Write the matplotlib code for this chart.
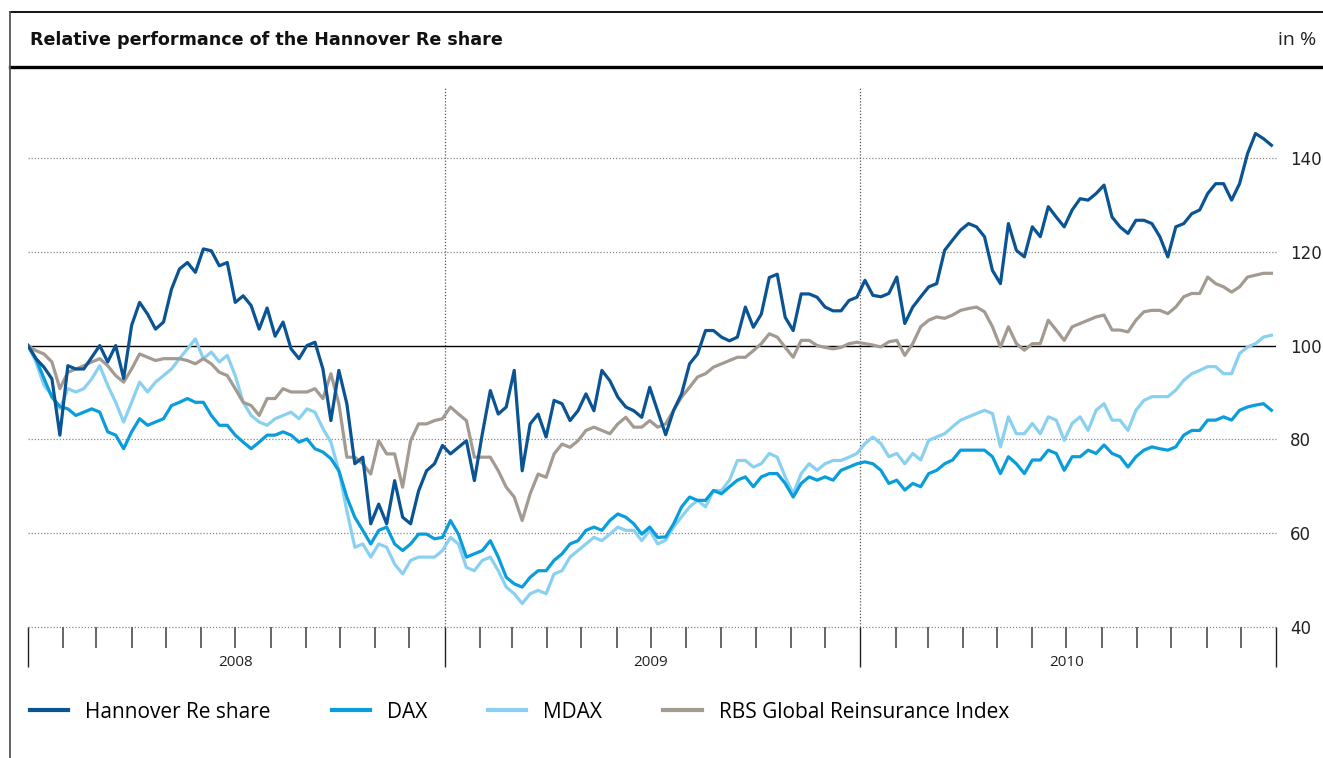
import numpy as np
import pandas as pd
import matplotlib
matplotlib.use('Agg')
import matplotlib.pyplot as plt
import matplotlib.dates as mdates
from matplotlib.lines import Line2D
from matplotlib.transforms import blended_transform_factory

# weekly closing points, indexed to 100 at 1 Jan 2008
weeks = pd.date_range('2008-01-01', periods=157, freq='7D')

hannover = [100, 97.2, 95.4, 92.9, 80.9, 95.7, 95, 95, 97.5, 100, 96.5, 100, 93, 104.3, 109.2, 106.7,
            103.5, 105, 112, 116.3, 117.7, 115.6, 120.6, 120.2, 117, 117.7, 109.2, 110.6, 108.5, 103.5,
            108, 102, 105, 99.3, 97.2, 100, 100.7, 95, 84, 94.7, 87.6, 74.8, 76.2, 62, 66.2, 62, 71.2,
            63.4, 62, 69, 73.3, 74.8, 78.7, 76.9, 78.3, 79.7, 71.2, 81.2, 90.4, 85.4, 86.9, 94.7, 73.3,
            83.3, 85.4, 80.5, 88.3, 87.6, 84, 86.1, 89.7, 86.1, 94.7, 92.5, 89, 86.9, 86.1, 84.7, 91.1,
            86, 81, 86.2, 89.7, 96.1, 98.2, 103.2, 103.2, 101.8, 101, 101.8, 108.2, 103.9, 106.7, 114.5,
            115.2, 106, 103.2, 111, 111, 110.3, 108.2, 107.4, 107.4, 109.6, 110.3, 113.9, 110.7, 110.4,
            111.1, 114.6, 104.7, 108.2, 110.4, 112.5, 113.2, 120.3, 122.5, 124.6, 126, 125.3, 123.2, 116,
            113.2, 126, 120.3, 118.9, 125.3, 123.2, 129.6, 127.4, 125.3, 128.9, 131.3, 131, 132.4, 134.2,
            127.4, 125.3, 123.9, 126.7, 126.7, 126, 123.2, 118.9, 125.3, 126, 128.1, 128.9, 132.4, 134.5,
            134.5, 131, 134.5, 140.9, 145.2, 144.1, 142.7]

dax = [100, 97.2, 93, 89, 87, 86.5, 85.1, 85.8, 86.5, 85.8, 81.6, 80.9, 78, 81.6, 84.4, 83, 83.7, 84.4,
       87.2, 87.9, 88.7, 87.9, 87.9, 85.1, 83, 83, 80.9, 79.4, 78, 79.4, 80.9, 80.9, 81.6, 80.9, 79.4,
       80.1, 78, 77.3, 75.9, 73.3, 67.7, 63.4, 60.6, 57.7, 60.6, 61.3, 57.7, 56.3, 57.7, 59.8, 59.8,
       58.8, 59.1, 62.7, 59.8, 54.9, 55.6, 56.3, 58.4, 54.9, 50.6, 49.2, 48.5, 50.6, 52, 52, 54.2,
       55.6, 57.7, 58.4, 60.6, 61.3, 60.6, 62.7, 64.1, 63.4, 62, 59.8, 61.3, 59.1, 59.2, 62, 65.6,
       67.7, 67, 67, 69.1, 68.4, 69.9, 71.3, 72, 69.9, 72, 72.7, 72.7, 70.6, 67.7, 70.6, 72, 71.3, 72,
       71.3, 73.4, 74.1, 74.8, 75.2, 74.8, 73.4, 70.6, 71.3, 69.2, 70.6, 69.9, 72.7, 73.4, 74.8, 75.6,
       77.7, 77.7, 77.7, 77.7, 76.3, 72.7, 76.3, 74.8, 72.7, 75.6, 75.6, 77.7, 77, 73.4, 76.3, 76.3,
       77.7, 77, 78.8, 77, 76.3, 74.1, 76.3, 77.7, 78.4, 78, 77.7, 78.4, 80.9, 81.9, 81.9, 84.1, 84.1,
       84.8, 84.1, 86.2, 86.9, 87.3, 87.6, 86.2]

mdax = [100, 96.5, 91.5, 89.4, 86.5, 90.8, 90.1, 90.8, 92.9, 95.7, 91.5, 87.9, 83.7, 87.9, 92.2, 90.1,
        92.2, 93.6, 95, 97.2, 99.3, 101.4, 97.2, 98.6, 96.5, 97.9, 93.6, 87.9, 85.1, 83.7, 83, 84.4,
        85.1, 85.8, 84.4, 86.5, 85.8, 82.3, 79.4, 73.3, 64.8, 57, 57.7, 54.9, 57.7, 57, 53.4, 51.3,
        54.2, 54.9, 54.9, 54.9, 56.3, 59.1, 57.7, 52.7, 52, 54.2, 54.9, 52, 48.5, 47.1, 45, 47.1, 47.8,
        47.1, 51.3, 52, 54.9, 56.3, 57.7, 59.1, 58.4, 59.8, 61.3, 60.6, 60.6, 58.4, 60.6, 57.7, 58.5,
        61.3, 63.5, 65.6, 67, 65.6, 69.1, 69.1, 71.3, 75.5, 75.5, 74.1, 74.8, 77, 76.2, 72, 68.4, 72.7,
        74.8, 73.4, 74.8, 75.5, 75.5, 76.2, 77, 79.1, 80.5, 79.1, 76.3, 77, 74.8, 77, 75.6, 79.8, 80.5,
        81.2, 82.7, 84.1, 84.8, 85.5, 86.2, 85.5, 78.4, 84.8, 81.2, 81.2, 83.4, 81.2, 84.8, 84.1, 79.8,
        83.4, 84.8, 81.9, 86.2, 87.6, 84.1, 84.1, 81.9, 86.2, 88.3, 89.1, 89.1, 89.1, 90.5, 92.6, 94,
        94.7, 95.5, 95.5, 94, 94, 98.3, 99.7, 100.4, 101.8, 102.2]

rbs = [100, 98.9, 98.2, 96.5, 90.8, 94.3, 95, 95.7, 96.5, 97.2, 95.7, 93.6, 92.2, 95, 98.2, 97.5, 96.8,
       97.2, 97.2, 97.2, 96.8, 96.1, 97.2, 96.1, 94.3, 93.6, 90.8, 87.9, 87.2, 85.1, 88.7, 88.7, 90.8,
       90.1, 90.1, 90.1, 90.8, 88.7, 94, 87.6, 76.2, 76.2, 74.8, 72.6, 79.7, 76.9, 76.9, 69.8, 79.7,
       83.3, 83.3, 84, 84.4, 86.9, 85.4, 84, 76.2, 76.2, 76.2, 73.3, 69.8, 67.7, 62.7, 68.4, 72.6,
       71.9, 76.9, 79, 78.3, 79.7, 81.9, 82.6, 81.9, 81.2, 83.3, 84.7, 82.6, 82.6, 84, 82.6, 83.3,
       86.2, 89, 91.1, 93.3, 94, 95.4, 96.1, 96.8, 97.5, 97.5, 98.9, 100.4, 102.5, 101.8, 99.6, 97.5,
       101.1, 101.1, 100, 99.6, 99.3, 99.6, 100.4, 100.7, 100.4, 100.1, 99.7, 100.8, 101.1, 97.9,
       100.4, 104, 105.4, 106.1, 105.8, 106.5, 107.5, 107.9, 108.2, 107.2, 104, 99.7, 104, 100.4, 99,
       100.4, 100.4, 105.4, 103.3, 101.1, 104, 104.7, 105.4, 106.1, 106.5, 103.3, 103.3, 102.9, 105.4,
       107.2, 107.5, 107.5, 106.8, 108.2, 110.4, 111.1, 111.1, 114.6, 113.2, 112.5, 111.4, 112.5,
       114.6, 115, 115.4, 115.4]

series_names = ['Hannover Re share', 'DAX', 'MDAX', 'RBS Global Reinsurance Index']
series_colors = ['#0a5494', '#0a9ddb', '#8ad0f0', '#a39a91']
y_ticks = [40, 60, 80, 100, 120, 140]
years = [2008, 2009, 2010]

plt.rcParams['font.family'] = ['Open Sans', 'DejaVu Sans']

fig = plt.figure(figsize=(13.23, 7.58), dpi=100)
ax = fig.add_axes([28/1323, 131/758, 1248/1323, 539/758])

# draw in order so the Hannover line sits on top
lw = 2.3
l_mdax, = ax.plot(weeks, mdax, color=series_colors[2], lw=lw, solid_joinstyle='round', zorder=3)
l_dax, = ax.plot(weeks, dax, color=series_colors[1], lw=lw, solid_joinstyle='round', zorder=4)
l_rbs, = ax.plot(weeks, rbs, color=series_colors[3], lw=lw, solid_joinstyle='round', zorder=5)
l_han, = ax.plot(weeks, hannover, color=series_colors[0], lw=lw, solid_joinstyle='round', zorder=6)

x0 = pd.Timestamp('2008-01-01')
x1 = pd.Timestamp('2011-01-01')
ax.set_xlim(x0, x1)
ax.set_ylim(40, 154.9)

for sp in ax.spines.values():
    sp.set_visible(False)

# horizontal grid, 100 line solid
for v in y_ticks:
    if v == 100:
        ax.axhline(v, color='black', lw=1.0, zorder=2)
    else:
        ax.axhline(v, color='#888888', lw=0.9, ls=(0, (1, 1.5)), zorder=1, clip_on=False)

# year separators
for yr in years[1:]:
    ax.axvline(pd.Timestamp(f'{yr}-01-01'), color='#555555', lw=0.9, ls=(0, (1, 1.5)), zorder=1)

ax.yaxis.tick_right()
ax.set_yticks(y_ticks)
ax.set_yticklabels([str(v) for v in y_ticks], family='DejaVu Sans')
ax.tick_params(axis='y', length=0, pad=10, labelsize=12, labelcolor='#222222')
for lab in ax.get_yticklabels():
    lab.set_horizontalalignment('left')

# month ticks (minor) and year ticks (major)
ax.xaxis.set_major_locator(mdates.YearLocator())
ax.xaxis.set_minor_locator(mdates.MonthLocator())
ax.xaxis.set_major_formatter(plt.NullFormatter())
ax.tick_params(axis='x', which='major', length=29, width=1.0, color='#222222', direction='out')
ax.tick_params(axis='x', which='minor', length=15, width=1.4, color='#666666', direction='out')

trans = blended_transform_factory(ax.transData, ax.transAxes)
for yr in years:
    ax.text(pd.Timestamp(f'{yr}-07-01'), -0.065, str(yr), transform=trans, ha='center', va='center',
            fontsize=11, color='#222222')

# frame / header
fig.add_artist(Line2D([10/1323, 1], [1 - 12/758, 1 - 12/758], color='black', lw=1.3))
fig.add_artist(Line2D([10/1323, 1], [1 - 67/758, 1 - 67/758], color='black', lw=2.4))
fig.add_artist(Line2D([10/1323, 10/1323], [0, 1 - 12/758], color='#555555', lw=1.3))
fig.text(30/1323, 1 - 40/758, 'Relative performance of the Hannover Re share', fontsize=12.6,
         fontweight='bold', family='DejaVu Sans', ha='left', va='center', color='#111111')
fig.text(1316/1323, 1 - 40/758, 'in %', fontsize=14, ha='right', va='center', color='#222222')

leg = fig.legend([l_han, l_dax, l_mdax, l_rbs], series_names, ncol=4, loc='center left',
                 bbox_to_anchor=(30/1323, 1 - 712/758), frameon=False, fontsize=15,
                 handlelength=1.83, handletextpad=0.82, columnspacing=2.93,
                 borderpad=0, borderaxespad=0)
for h in leg.get_lines():
    h.set_linewidth(3)

fig.savefig('out.png', dpi=100)
